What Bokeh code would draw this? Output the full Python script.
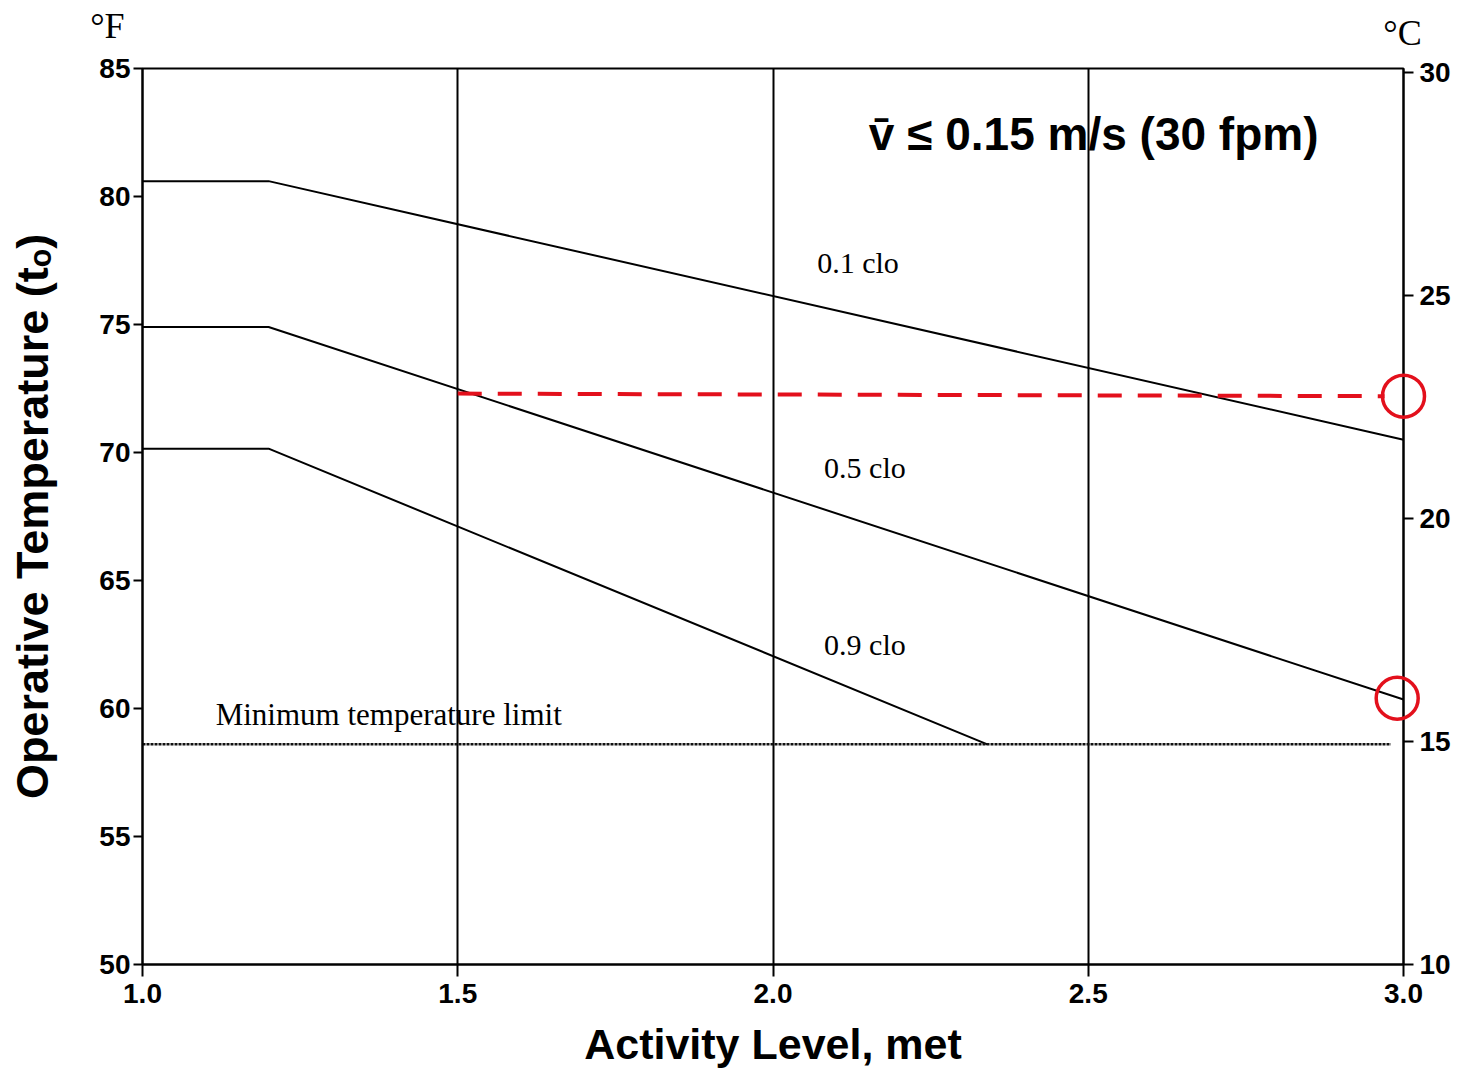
from bokeh.plotting import figure
from bokeh.models import Range1d, LinearAxis, Label, FixedTicker, PrintfTickFormatter, ColumnDataSource
from bokeh.core.properties import value
from bokeh.embed import file_html
from bokeh.resources import INLINE

# ---- data ----
met_ticks = [1.0, 1.5, 2.0, 2.5, 3.0]
f_ticks = [50, 55, 60, 65, 70, 75, 80, 85]
c_ticks = [10, 15, 20, 25, 30]

clo01_met = [1.0, 1.2, 3.0]
clo01_temp = [80.6, 80.6, 70.5]
clo05_met = [1.0, 1.2, 3.0]
clo05_temp = [74.9, 74.9, 60.35]
clo09_met = [1.0, 1.2, 2.34]
clo09_temp = [70.15, 70.15, 58.6]
minlimit_met = [1.0, 2.98]
minlimit_temp = [58.6, 58.6]
ref_met = [1.5, 2.97]
ref_temp = [72.3, 72.2]
circle_met = [3.0, 2.99]
circle_temp = [72.2, 60.4]

SANS = "Liberation Sans"
SERIF = "Liberation Serif"

p = figure(width=1461, height=1070, x_range=Range1d(1.0, 3.0), y_range=Range1d(50, 85),
           output_backend="svg", toolbar_location=None,
           min_border_left=142, min_border_right=58, min_border_top=68, min_border_bottom=104)
p.extra_y_ranges = {"c": Range1d(10.0, 30.09)}
p.background_fill_color = "white"
p.border_fill_color = "white"
p.outline_line_color = "black"
p.outline_line_width = 2

# grid
p.xgrid.ticker = FixedTicker(ticks=met_ticks)
p.xgrid.grid_line_color = "black"
p.xgrid.grid_line_width = 2
p.xgrid.grid_line_alpha = 1.0
p.ygrid.grid_line_color = None

def style_axis(ax, size):
    ax.axis_line_color = "black"
    ax.axis_line_width = 2
    ax.major_tick_line_color = "black"
    ax.major_tick_line_width = 2
    ax.minor_tick_line_color = None
    ax.major_tick_in = 0
    ax.major_label_text_font = SANS
    ax.major_label_text_font_style = "bold"
    ax.major_label_text_font_size = size
    ax.major_label_text_color = "black"

# bottom axis
xa = p.xaxis[0]
style_axis(xa, "28px")
xa.ticker = FixedTicker(ticks=met_ticks)
xa.formatter = PrintfTickFormatter(format="%.1f")
xa.major_tick_out = 12
xa.major_label_standoff = 7
xa.axis_label = "Activity Level, met"
xa.axis_label_text_font = SANS
xa.axis_label_text_font_style = "bold"
xa.axis_label_text_font_size = "43px"
xa.axis_label_text_color = "black"
xa.axis_label_standoff = 14

# left axis
ya = p.yaxis[0]
style_axis(ya, "28px")
ya.ticker = FixedTicker(ticks=f_ticks)
ya.major_tick_out = 9
ya.major_label_standoff = 3
ya.axis_label = "Operative Temperature (t\u2092)"
ya.axis_label_text_font = SANS
ya.axis_label_text_font_style = "bold"
ya.axis_label_text_font_size = "45px"
ya.axis_label_text_color = "black"
ya.axis_label_standoff = 38

# right axis (Celsius)
ra = LinearAxis(y_range_name="c")
style_axis(ra, "28px")
ra.ticker = FixedTicker(ticks=c_ticks)
ra.major_tick_out = 10
ra.major_label_standoff = 6
p.add_layout(ra, "right")

# lines
p.line(clo01_met, clo01_temp, line_color="black", line_width=2)
p.line(clo05_met, clo05_temp, line_color="black", line_width=2)
p.line(clo09_met, clo09_temp, line_color="black", line_width=2)
p.line(minlimit_met, minlimit_temp, line_color="#111111", line_width=2.5, line_dash="3 1")
p.line(ref_met, ref_temp, line_color="#e3101c", line_width=4, line_dash="24 16")
p.scatter(circle_met, circle_temp, marker="circle", size=42, fill_color=None,
          line_color="#e3101c", line_width=3.5, level="overlay")

# text labels
def lab(x, y, text, font, size, style="normal", align="left", baseline="middle"):
    p.add_layout(Label(x=x, y=y, text=text, text_font=font, text_font_size=size,
                       text_font_style=style, text_align=align, text_baseline=baseline,
                       text_color="black"))

lab(2.07, 77.43, "0.1 clo", SERIF, "30px")
lab(2.081, 69.4, "0.5 clo", SERIF, "30px")
lab(2.081, 62.49, "0.9 clo", SERIF, "30px")
lab(1.116, 59.76, "Minimum temperature limit", SERIF, "31px")
lab(2.152, 82.45, "v\u0304 \u2264 0.15 m/s (30 fpm)", SANS, "46px", style="bold")

# unit labels outside the frame (unclipped overlay glyphs)
unit_x = [0.917, 2.968]
unit_y = [86.65, 86.4]
unit_txt = ["\u00b0F", "\u00b0C"]
src = ColumnDataSource(dict(x=unit_x, y=unit_y, t=unit_txt))
p.text(x="x", y="y", text="t", source=src, text_font=value(SERIF), text_font_size="36px",
       text_color="black", text_baseline="alphabetic", text_align="left", level="overlay")

open("out.html", "w").write(file_html(p, INLINE))
